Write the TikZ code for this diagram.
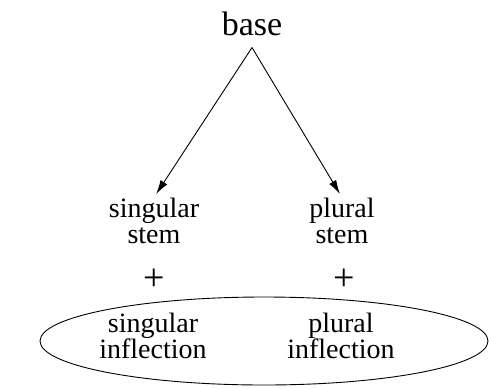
\documentclass[tikz,border=0pt]{standalone}
\usepackage{fontspec}
\setmainfont{Liberation Serif}
\usetikzlibrary{shapes.geometric,arrows.meta}
\begin{document}
\begin{tikzpicture}[x=1pt,y=-1pt,
  lbl/.style={align=center,font=\fontsize{28}{26}\selectfont,inner sep=0pt},
  plus/.style={font=\fontsize{38}{38}\selectfont,inner sep=0pt},
  arr/.style={line width=0.9pt,-{Latex[length=14pt,width=8pt]}}]
\useasboundingbox (0,0) rectangle (489,388);
\node[font=\fontsize{34}{34}\selectfont,inner xsep=0pt,inner ysep=12pt,anchor=base] (base) at (252,35) {base};
\node[lbl,anchor=base] (ss) at (154,243) {singular\\stem};
\node[lbl,anchor=base] (ps) at (342,243) {plural\\stem};
\node[plus] (p1) at (154,280) {+};
\node[plus] (p2) at (344,280) {+};
\node[draw,ellipse,line width=0.9pt,minimum width=448pt,minimum height=88pt,inner sep=0pt] (ell) at (264,341) {};
\node[lbl,anchor=base] (si) at (153,358) {singular\\inflection};
\node[lbl,anchor=base] (pi) at (341,358) {plural\\inflection};
\draw[arr,shorten >=4pt] (base.south) -- (ss.north);
\draw[arr,shorten >=4pt] (base.south) -- (ps.north);
\end{tikzpicture}
\end{document}
